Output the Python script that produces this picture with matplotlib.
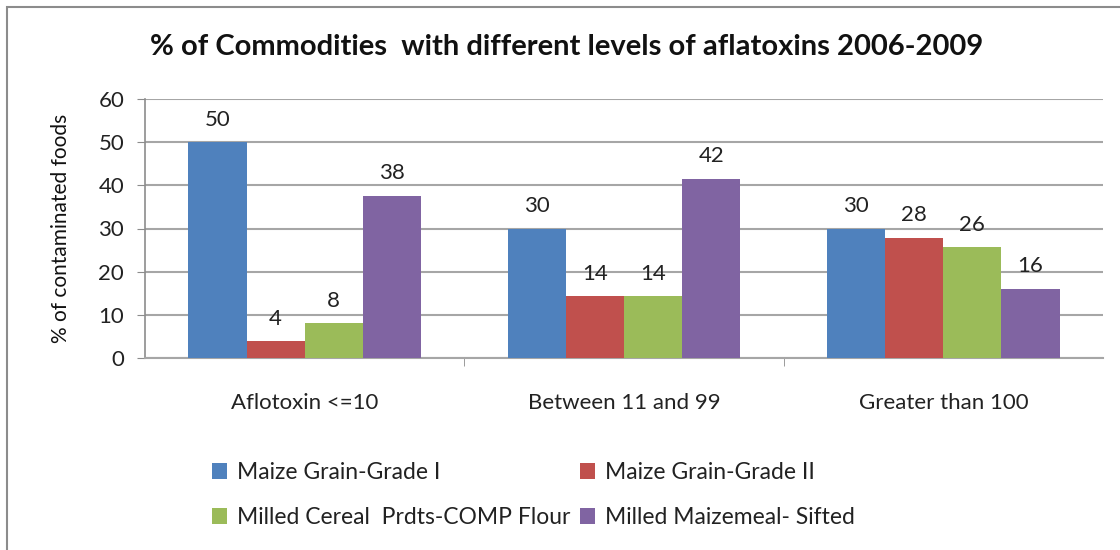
import matplotlib.pyplot as plt
import numpy as np
from matplotlib.patches import Rectangle

plt.rcParams['font.family'] = ['Lato', 'DejaVu Sans']

categories = ["Aflotoxin <=10", "Between 11 and 99", "Greater than 100"]
series_names = ["Maize Grain-Grade I", "Maize Grain-Grade II",
                "Milled Cereal  Prdts-COMP Flour", "Milled Maizemeal- Sifted"]
maize_grade1 = [50, 30, 30]
maize_grade2 = [3.9, 14.3, 27.8]
cereal_flour = [8.1, 14.3, 25.6]
maizemeal_sifted = [37.6, 41.5, 16.0]
yticks = [0, 10, 20, 30, 40, 50, 60]

colors = ["#4F81BD", "#C0504D", "#9BBB59", "#8064A2"]
series = [maize_grade1, maize_grade2, cereal_flour, maizemeal_sifted]

fig = plt.figure(figsize=(11.2, 5.5), dpi=100)
fig.patches.append(Rectangle((7 / 1120, -0.1), 1.1, 1.1 - 7 / 550, transform=fig.transFigure,
                             fill=False, edgecolor="#8c8c8c", linewidth=1.5, zorder=0))

ax = fig.add_axes([145 / 1120, 1 - 358 / 550, (1103 - 145) / 1120, (358 - 99) / 550])

x = np.arange(len(categories))
w = 0.182
handles = []
for i, (vals, c) in enumerate(zip(series, colors)):
    bars = ax.bar(x + (i - 1.5) * w, vals, width=w, color=c, zorder=3, label=series_names[i])
    ax.bar_label(bars, labels=[f"{v:.0f}" for v in vals], padding=9, fontsize=16, color="#222222")
    handles.append(bars)

ax.set_xlim(-0.5, 2.5)
ax.set_ylim(0, 60)
ax.set_yticks(yticks)
ax.tick_params(axis="y", labelsize=16, length=6, color="#8c8c8c", pad=9, labelcolor="#222222")
ax.set_xticks(x)
ax.set_xticklabels(categories, fontsize=16, color="#222222")
ax.set_xticks([0.5, 1.5], minor=True)
ax.tick_params(axis="x", which="major", length=0, pad=25)
ax.tick_params(axis="x", which="minor", length=6, color="#8c8c8c")
ax.grid(axis="y", color="#a6a6a6", linewidth=1.5, zorder=0)
for s in ["top", "right"]:
    ax.spines[s].set_visible(False)
ax.spines["left"].set_color("#8c8c8c")
ax.spines["bottom"].set_color("#a6a6a6")
ax.spines["left"].set_linewidth(1.2)
ax.spines["bottom"].set_linewidth(1.5)

ax.set_ylabel("% of contaminated foods", fontsize=15, color="#111111", labelpad=20)

fig.text(567 / 1120, 1 - 47 / 550, "% of Commodities  with different levels of aflatoxins 2006-2009",
         ha="center", va="center", fontsize=21, fontweight="bold", color="#111111")

order = [0, 2, 1, 3]
fig.legend([handles[i] for i in order], [series_names[i] for i in order], ncol=2,
           loc="upper left", bbox_to_anchor=(196 / 1120, 1 - 446 / 550), frameon=False,
           fontsize=16.5, handlelength=0.65, handleheight=0.65, handletextpad=0.45,
           columnspacing=0.4, labelspacing=1.05, labelcolor="#222222", borderpad=0.2)

fig.savefig("out.png", dpi=100)
